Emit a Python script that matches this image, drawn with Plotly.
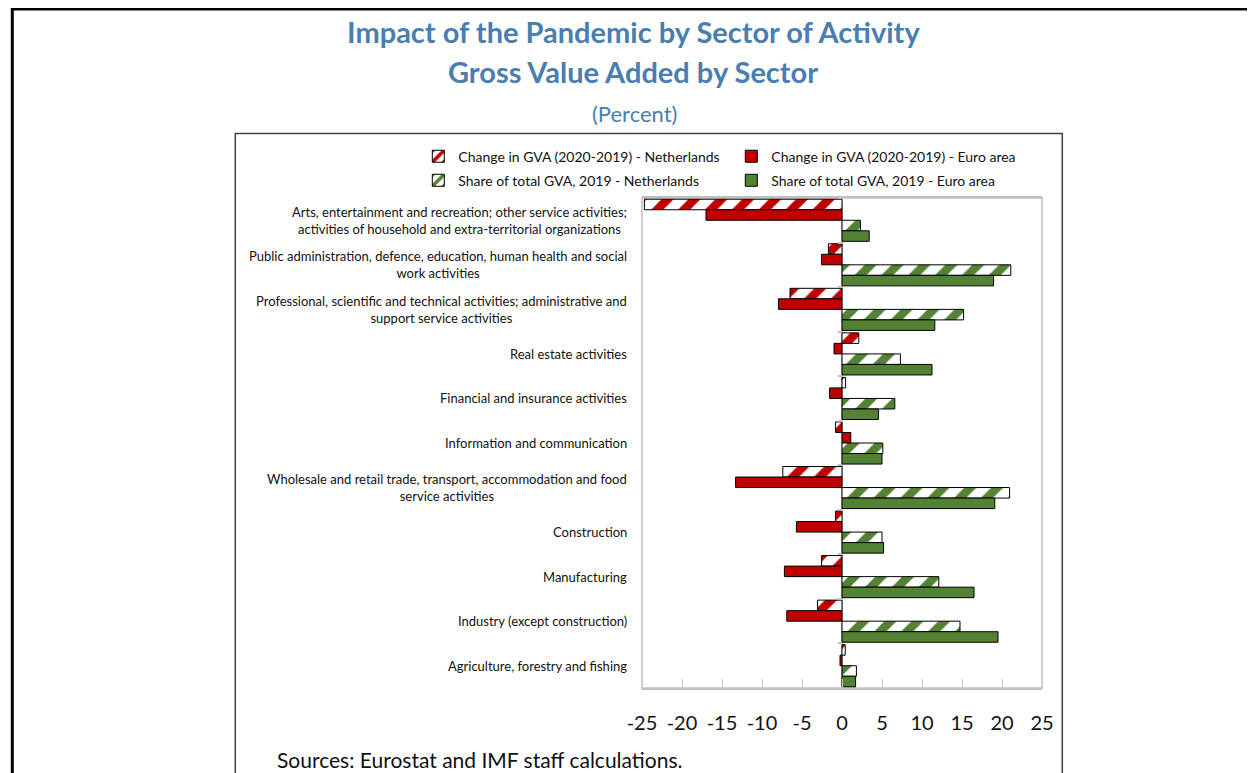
import plotly.graph_objects as go

# ---- data ----
sectors = [
    "Arts, entertainment and recreation; other service activities;<br>activities of household and extra-territorial organizations",
    "Public administration, defence, education, human health and social<br>work activities",
    "Professional, scientific and technical activities; administrative and<br>support service activities",
    "Real estate activities",
    "Financial and insurance activities",
    "Information and communication",
    "Wholesale and retail trade, transport, accommodation and food<br>service activities",
    "Construction",
    "Manufacturing",
    "Industry (except construction)",
    "Agriculture, forestry and fishing",
]
change_nl = [-24.7, -1.7, -6.5, 2.1, 0.45, -0.8, -7.4, -0.8, -2.55, -3.05, 0.4]
change_ea = [-17.0, -2.55, -7.95, -1.0, -1.55, 1.1, -13.3, -5.7, -7.2, -6.9, -0.25]
share_nl = [2.3, 21.1, 15.2, 7.3, 6.6, 5.1, 20.95, 5.0, 12.1, 14.75, 1.8]
share_ea = [3.4, 18.95, 11.6, 11.25, 4.55, 5.0, 19.1, 5.2, 16.5, 19.5, 1.7]
x_ticks = [-25, -20, -15, -10, -5, 0, 5, 10, 15, 20, 25]

RED = "#C00000"
GREEN = "#548235"
BLUE = "#4A7EB0"
GRID = "#BFBFBF"
FONT = "Lato"

# page has an 8px body margin, so the figure is drawn 8px smaller
PAGE_W, PAGE_H, OFF = 1255, 773, 8
W, H = PAGE_W - OFF, PAGE_H - OFF
# plot area in page pixels
L, R, T, B = 641.7, 1041.7, 198.3, 687.7


def px_x(px):
    return (px - L) / (R - L)


def px_y(py):
    return (B - py) / (B - T)


fig = go.Figure()


def hatched(color):
    return dict(color="white",
                pattern=dict(shape="/", fgcolor=color, bgcolor="white",
                             fgopacity=1, size=19, solidity=0.45),
                line=dict(color="black", width=1))


def solid(color):
    return dict(color=color, line=dict(color="black", width=1))


fig.add_trace(go.Bar(y=sectors, x=change_nl, orientation="h",
                     name="Change in GVA (2020-2019) - Netherlands",
                     marker=hatched(RED), legend="legend"))
fig.add_trace(go.Bar(y=sectors, x=change_ea, orientation="h",
                     name="Change in GVA (2020-2019) - Euro area",
                     marker=solid(RED), legend="legend"))
fig.add_trace(go.Bar(y=sectors, x=share_nl, orientation="h",
                     name="Share of total GVA, 2019 - Netherlands",
                     marker=hatched(GREEN), legend="legend2"))
fig.add_trace(go.Bar(y=sectors, x=share_ea, orientation="h",
                     name="Share of total GVA, 2019 - Euro area",
                     marker=solid(GREEN), legend="legend2"))

# category labels, centred lines, right-aligned block
for s in sectors:
    fig.add_annotation(x=0, xref="paper", y=s, yref="y", text=s,
                       xanchor="right", yanchor="middle", align="center",
                       xshift=-13, showarrow=False,
                       font=dict(family=FONT, size=13, color="#111111"))

# titles
fig.add_annotation(x=px_x(633), y=px_y(32), xref="paper", yref="paper",
                   text="<b>Impact of the Pandemic by Sector of Activity</b>",
                   showarrow=False, xanchor="center", yanchor="middle",
                   font=dict(family=FONT, size=29, color=BLUE))
fig.add_annotation(x=px_x(633), y=px_y(72), xref="paper", yref="paper",
                   text="<b>Gross Value Added by Sector</b>",
                   showarrow=False, xanchor="center", yanchor="middle",
                   font=dict(family=FONT, size=29, color=BLUE))
fig.add_annotation(x=px_x(634), y=px_y(114), xref="paper", yref="paper",
                   text="(Percent)", showarrow=False,
                   xanchor="center", yanchor="middle",
                   font=dict(family=FONT, size=22, color=BLUE))
fig.add_annotation(x=px_x(275), y=px_y(759), xref="paper", yref="paper",
                   text="Sources: Eurostat and IMF staff calculations.",
                   showarrow=False, xanchor="left", yanchor="middle",
                   font=dict(family=FONT, size=21, color="#111111"))

# outer frames and plot border
fig.add_shape(type="rect", xref="paper", yref="paper",
              x0=px_x(12), x1=px_x(1300), y0=px_y(9.5), y1=px_y(820),
              line=dict(color="black", width=3), layer="below")
fig.add_shape(type="rect", xref="paper", yref="paper",
              x0=px_x(235), x1=px_x(1062), y0=px_y(134), y1=px_y(820),
              line=dict(color="#404040", width=1.5), layer="below")
fig.add_shape(type="rect", xref="paper", yref="paper",
              x0=0, x1=1, y0=0, y1=1,
              line=dict(color=GRID, width=1.5), layer="below")

leg_font = dict(family=FONT, size=14, color="#111111")
fig.update_layout(
    width=W, height=H,
    margin=dict(l=L - OFF, r=PAGE_W - R, t=T - OFF, b=PAGE_H - B, pad=0),
    paper_bgcolor="white", plot_bgcolor="white",
    barmode="group", bargap=0.055, bargroupgap=0,
    showlegend=True,
    legend=dict(orientation="h", x=px_x(418), y=px_y(157),
                xanchor="left", yanchor="middle", entrywidth=268,
                font=leg_font, bgcolor="rgba(0,0,0,0)"),
    legend2=dict(orientation="h", x=px_x(418), y=px_y(181),
                 xanchor="left", yanchor="middle", entrywidth=268,
                 font=leg_font, bgcolor="rgba(0,0,0,0)"),
    xaxis=dict(range=[-25, 25], tickvals=x_ticks,
               ticktext=[str(v) for v in x_ticks], ticks="inside",
               ticklen=9, tickcolor=GRID, showgrid=False,
               zeroline=True, zerolinecolor=GRID, zerolinewidth=1.5,
               showline=True, linecolor=GRID, linewidth=1.5, mirror=True,
               ticklabelstandoff=16,
               tickfont=dict(family=FONT, size=20, color="#111111")),
    # category axis sits on the zero line, with short ticks between sectors
    yaxis=dict(categoryorder="array", categoryarray=sectors,
               autorange="reversed", showticklabels=False, showgrid=False,
               showline=False, anchor="free", position=0.5,
               ticks="outside", tickson="boundaries", ticklen=4,
               tickcolor=GRID, tickwidth=1.5),
)

fig.write_html("out.html")
